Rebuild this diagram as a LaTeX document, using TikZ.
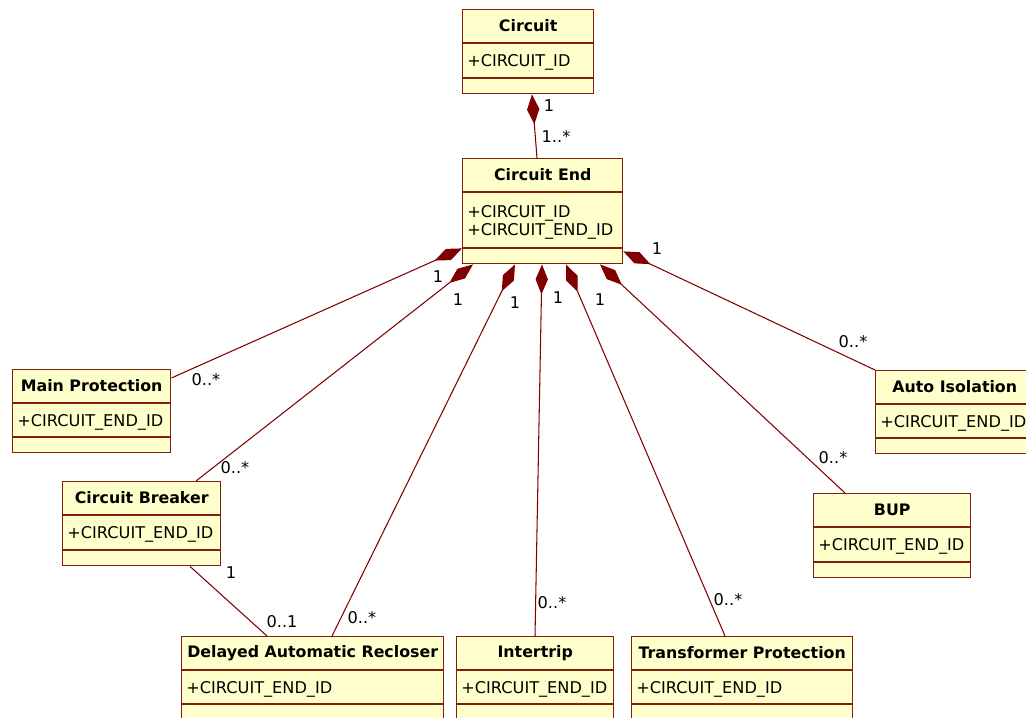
\documentclass[tikz,border=0pt]{standalone}
\usepackage{fontspec}
\setmainfont{DejaVu Sans}
\usetikzlibrary{arrows.meta,calc}
\definecolor{umlfill}{RGB}{255,255,204}
\definecolor{umlred}{RGB}{128,0,0}
\definecolor{umlborder}{RGB}{128,32,16}
\tikzset{x=0.02cm,y=-0.02cm,
  classbox/.style={draw=umlborder,fill=umlfill,line width=0.8pt,inner sep=0pt},
  classline/.style={draw=umlborder,line width=0.8pt},
  classname/.style={font=\bfseries\fontsize{9}{11}\selectfont,inner sep=0pt},
  classattr/.style={font=\fontsize{9.2}{10.2}\selectfont,align=left,anchor=west,inner sep=0pt},
  mult/.style={font=\fontsize{9.2}{10}\selectfont,inner sep=0pt},
  assoc/.style={draw=umlred,line width=0.6pt},
  comp/.style={assoc,{Diamond[length=17pt,width=7pt]}-}}

% name, x, y, width, attribute height, title, attributes
\newcommand{\umlclass}[7]{%
  \node[classbox,anchor=north west,minimum width={#4*0.02cm},minimum height={(49+#5)*0.02cm}] (#1) at (#2,#3) {};
  \draw[classline] ($(#1.north west)+(0,34)$) -- ($(#1.north east)+(0,34)$);
  \draw[classline] ($(#1.north west)+(0,34+#5)$) -- ($(#1.north east)+(0,34+#5)$);
  \node[classname] (#1-name) at ($(#1.north)+(0,17)$) {#6};
  \node[classattr] (#1-attr) at ($(#1.north west)+(5,36+#5/2)$) {#7};
}

\begin{document}
\begin{tikzpicture}
    \clip (0,0) rectangle (1026,717);

    \umlclass{circuit}{462}{9}{131}{35}{Circuit}{+CIRCUIT\_ID}
    \umlclass{cend}{462}{158}{160}{56}{Circuit End}{+CIRCUIT\_ID\\+CIRCUIT\_END\_ID}
    \umlclass{mp}{12}{369}{158}{34}{Main Protection}{+CIRCUIT\_END\_ID}
    \umlclass{cb}{62}{481}{158}{35}{Circuit Breaker}{+CIRCUIT\_END\_ID}
    \umlclass{dar}{181}{636}{262}{34}{Delayed Automatic Recloser}{+CIRCUIT\_END\_ID}
    \umlclass{it}{456}{636}{157}{34}{Intertrip}{+CIRCUIT\_END\_ID}
    \umlclass{tp}{631}{636}{221}{34}{Transformer Protection}{+CIRCUIT\_END\_ID}
    \umlclass{ai}{875}{370}{158}{34}{Auto Isolation}{+CIRCUIT\_END\_ID}
    \umlclass{bup}{813}{493}{157}{35}{BUP}{+CIRCUIT\_END\_ID}

    % attachment points on the borders
    \coordinate (c-bot) at ($(circuit.south west)+(70,0)$);
    \coordinate (ce-top) at ($(cend.north west)+(75,0)$);
    \coordinate (ce-mp) at ($(cend.south west)+(0,-16)$);
    \coordinate (ce-cb) at ($(cend.south west)+(11,0)$);
    \coordinate (ce-dar) at ($(cend.south west)+(53,0)$);
    \coordinate (ce-it) at ($(cend.south west)+(80,0)$);
    \coordinate (ce-tp) at ($(cend.south west)+(104,0)$);
    \coordinate (ce-bup) at ($(cend.south west)+(138,0)$);
    \coordinate (ce-ai) at ($(cend.south east)+(0,-13)$);
    \coordinate (mp-top) at ($(mp.north east)+(0,9)$);
    \coordinate (cb-top) at ($(cb.north west)+(134,0)$);
    \coordinate (cb-bot) at ($(cb.south west)+(128,0)$);
    \coordinate (dar-top) at ($(dar.north west)+(151,0)$);
    \coordinate (dar-cb) at ($(dar.north west)+(86,0)$);
    \coordinate (it-top) at ($(it.north west)+(79,0)$);
    \coordinate (tp-top) at ($(tp.north west)+(94,0)$);
    \coordinate (bup-top) at ($(bup.north west)+(32,0)$);

    \path
    (c-bot) edge[comp] (ce-top)
    (ce-mp) edge[comp] (mp-top)
    (ce-cb) edge[comp] (cb-top)
    (ce-dar) edge[comp] (dar-top)
    (ce-it) edge[comp] (it-top)
    (ce-tp) edge[comp] (tp-top)
    (ce-bup) edge[comp] (bup-top)
    (ce-ai) edge[comp] (ai.north west)
    (cb-bot) edge[assoc] (dar-cb)
    ;

    % multiplicities
    \node[mult] (m-c1) at (549,106) {1};
    \node[mult] (m-c2) at (556,136) {1..*};
    \node[mult] (m-mp1) at (438,277) {1};
    \node[mult] (m-mp2) at (206,380) {0..*};
    \node[mult] (m-cb1) at (458,300) {1};
    \node[mult] (m-cb2) at (235,468) {0..*};
    \node[mult] (m-dar1) at (515,303) {1};
    \node[mult] (m-dar2) at (362,618) {0..*};
    \node[mult] (m-it1) at (558,298) {1};
    \node[mult] (m-it2) at (552,603) {0..*};
    \node[mult] (m-tp1) at (600,300) {1};
    \node[mult] (m-tp2) at (728,600) {0..*};
    \node[mult] (m-ai1) at (657,249) {1};
    \node[mult] (m-ai2) at (853,342) {0..*};
    \node[mult] (m-bup2) at (833,458) {0..*};
    \node[mult] (m-cb3) at (231,573) {1};
    \node[mult] (m-dar3) at (282,622) {0..1};
\end{tikzpicture}
\end{document}
